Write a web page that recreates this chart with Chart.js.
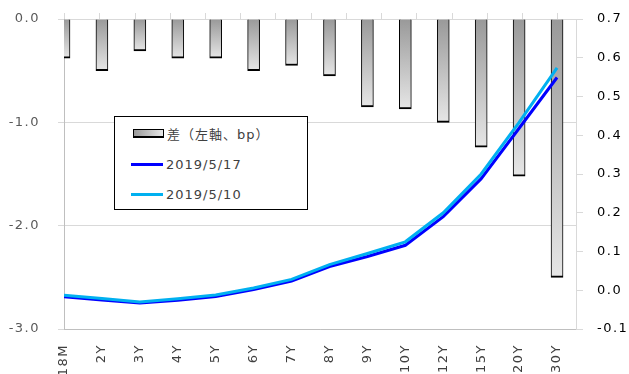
<!DOCTYPE html>
<html>
<head>
<meta charset="utf-8">
<script src="https://cdn.jsdelivr.net/npm/chart.js@4.4.1/dist/chart.umd.min.js"></script>
<style>
  html, body { margin: 0; padding: 0; background: #fff; overflow: hidden; }
  #wrap { position: relative; width: 629px; height: 400px; }
  #leyenda {
    position: absolute; left: 114px; top: 116px; width: 194px; height: 94px;
    box-sizing: border-box; border: 1px solid #000; background: #fff;
    font: 13px "DejaVu Sans", "Noto Sans CJK JP", sans-serif; color: #404040; letter-spacing: 1px;
  }
  .item { position: absolute; left: 16px; height: 20px; display: flex; align-items: center; white-space: nowrap; }
  .caja { width: 29px; height: 6px; border: 1px solid #000; border-bottom-width: 2px; background: linear-gradient(to right, #999, #e6e6e6); margin-right: 3px; margin-left: 2px; }
  .linea { width: 32px; height: 3px; margin-right: 3px; }
</style>
</head>
<body>
<div id="wrap">
  <canvas id="grafico" width="629" height="400"></canvas>
  <div id="leyenda">
    <div class="item" style="top:6px"><span class="caja"></span>差（左軸、bp）</div>
    <div class="item" style="top:37px"><span class="linea" style="background:#0000ff"></span>2019/5/17</div>
    <div class="item" style="top:67px"><span class="linea" style="background:#00b0f0"></span>2019/5/10</div>
  </div>
</div>
<script>
// Datos
const plazos = ['18M', '2Y', '3Y', '4Y', '5Y', '6Y', '7Y', '8Y', '9Y', '10Y', '12Y', '15Y', '20Y', '30Y'];
const diferencia = [-0.38, -0.5, -0.31, -0.38, -0.38, -0.5, -0.45, -0.55, -0.85, -0.87, -1.0, -1.24, -1.52, -2.5];
const curva0517 = [-0.017, -0.025, -0.033, -0.026, -0.016, 0.002, 0.024, 0.061, 0.087, 0.116, 0.190, 0.288, 0.418, 0.549];
const curva0510 = [-0.013, -0.021, -0.030, -0.022, -0.012, 0.006, 0.028, 0.066, 0.095, 0.125, 0.200, 0.300, 0.433, 0.574];

const fuente = { family: '"DejaVu Sans", sans-serif', size: 13 };

function puntos(arr) {
  return arr.map((v, i) => ({ x: i, y: v }));
}

function etiqueta(v) {
  return (Math.abs(v) < 1e-9 ? 0 : v).toFixed(1);
}

// ancho fijo del eje vertical y sin relleno extra arriba/abajo
function ajustarEje(ancho) {
  return (s) => {
    s.width = ancho;
    s.paddingTop = 0;
    s.paddingBottom = 0;
  };
}

// Degradado vertical para cada barra
function degradado(c) {
  const chart = c.chart;
  if (!chart.chartArea || !c.parsed) return '#bbbbbb';
  const ys = chart.scales.y;
  const y0 = ys.getPixelForValue(0);
  const y1 = ys.getPixelForValue(c.parsed.y);
  const g = chart.ctx.createLinearGradient(0, y0, 0, y1);
  g.addColorStop(0, '#999999');
  g.addColorStop(1, '#e6e6e6');
  return g;
}

const espaciado = {
  id: 'espaciado',
  beforeDraw(chart) { chart.ctx.letterSpacing = '1.5px'; }
};

new Chart(document.getElementById('grafico'), {
  type: 'bar',
  data: {
    datasets: [
      {
        type: 'line', label: '2019/5/10', data: puntos(curva0510), yAxisID: 'y1',
        borderColor: '#00b0f0', borderWidth: 3, pointRadius: 0, tension: 0, order: 0
      },
      {
        type: 'line', label: '2019/5/17', data: puntos(curva0517), yAxisID: 'y1',
        borderColor: '#0000ff', borderWidth: 3, pointRadius: 0, tension: 0, order: 1
      },
      {
        type: 'bar', label: '差（左軸、bp）', data: puntos(diferencia), yAxisID: 'y',
        backgroundColor: degradado, borderColor: '#000',
        borderWidth: { top: 0, left: 1, right: 1, bottom: 2 },
        barThickness: 12, order: 2, clip: 0
      }
    ]
  },
  options: {
    responsive: false,
    animation: false,
    layout: { padding: 0 },
    plugins: { legend: { display: false }, tooltip: { enabled: false } },
    scales: {
      x: {
        type: 'linear', position: 'bottom', min: 0, max: 13.5, offset: false,
        afterFit: (s) => { s.height = 71; },
        grid: { drawOnChartArea: false, drawTicks: false },
        border: { color: '#bfbfbf' },
        ticks: {
          stepSize: 1, includeBounds: false, autoSkip: false,
          maxRotation: 90, minRotation: 90, padding: 15,
          color: '#404040', font: fuente,
          callback: (v) => plazos[v] ?? ''
        }
      },
      x2: {
        type: 'linear', position: 'top', min: 0, max: 13.5,
        afterFit: (s) => { s.height = 19; },
        grid: { drawOnChartArea: false, tickLength: 6, color: '#d9d9d9' },
        border: { display: false },
        ticks: { stepSize: 1, includeBounds: false, display: false }
      },
      y: {
        position: 'left', min: -3, max: 0,
        afterFit: ajustarEje(64),
        grid: { color: '#d9d9d9', tickLength: 6 },
        border: { color: '#bfbfbf' },
        ticks: { stepSize: 1, padding: 18, color: '#595959', font: fuente, callback: etiqueta }
      },
      y1: {
        position: 'right', min: -0.1, max: 0.7,
        afterFit: ajustarEje(53),
        grid: { drawOnChartArea: false, tickLength: 7, color: '#d9d9d9' },
        border: { color: '#d9d9d9' },
        ticks: { stepSize: 0.1, padding: 14, color: '#000', font: fuente, callback: etiqueta }
      }
    }
  },
  plugins: [espaciado]
});
</script>
</body>
</html>
